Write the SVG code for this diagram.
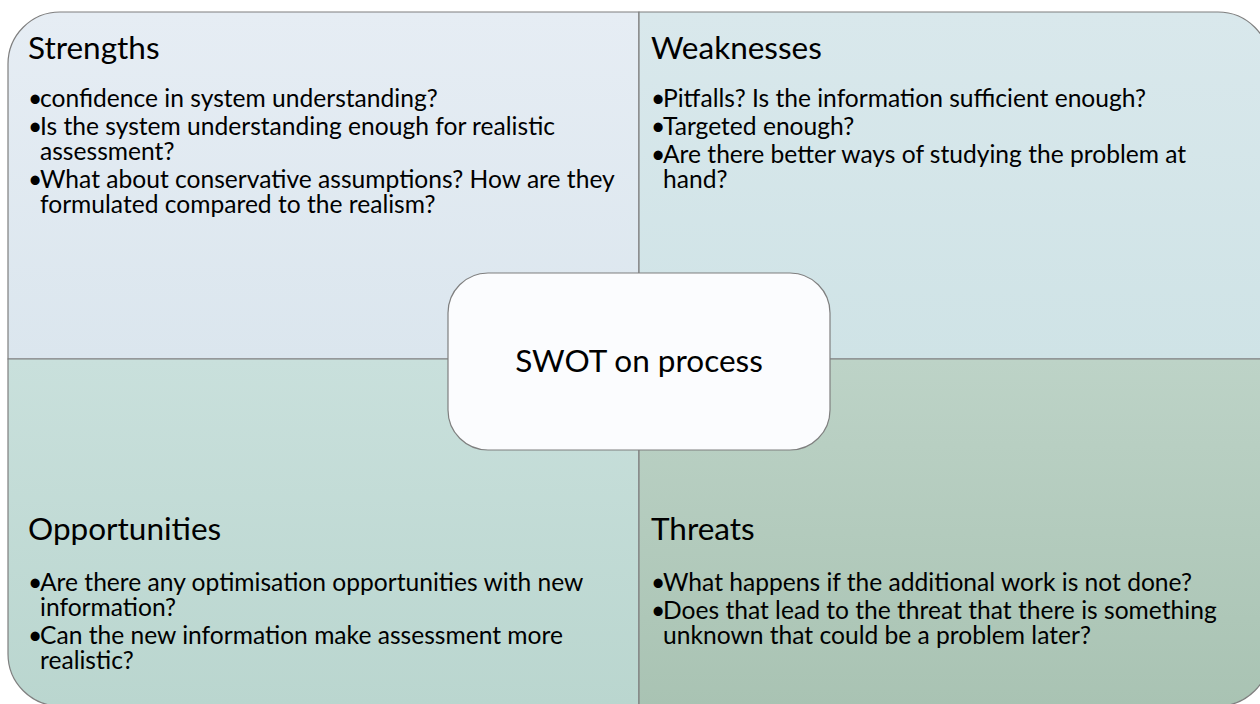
<svg xmlns="http://www.w3.org/2000/svg" width="1260" height="704" viewBox="0 0 1260 704">
<defs>
<linearGradient id="gS" x1="0" y1="0" x2="0" y2="1"><stop offset="0" stop-color="#e6edf4"/><stop offset="1" stop-color="#dbe6ee"/></linearGradient>
<linearGradient id="gW" x1="0" y1="0" x2="0" y2="1"><stop offset="0" stop-color="#d9e8ec"/><stop offset="1" stop-color="#cfe3e6"/></linearGradient>
<linearGradient id="gO" x1="0" y1="0" x2="0" y2="1"><stop offset="0" stop-color="#c9e0dc"/><stop offset="1" stop-color="#bad6cf"/></linearGradient>
<linearGradient id="gT" x1="0" y1="0" x2="0" y2="1"><stop offset="0" stop-color="#bdd3c7"/><stop offset="1" stop-color="#a9c3b3"/></linearGradient>
<style>
.q{stroke:#7f7f7f;stroke-width:1.2}
.h{font-family:Lato,"Open Sans",sans-serif;font-size:31.5px;fill:#000}
.b{font-family:Lato,"Open Sans",sans-serif;font-size:24.6px;fill:#000}
.c{font-family:Lato,"Open Sans",sans-serif;font-size:31.5px;fill:#000}
</style>
</defs>
<rect width="1260" height="704" fill="#ffffff"/>
<g id="strengths">
<path class="q" fill="url(#gS)" d="M8,64 A52,52 0 0 1 60,12 L639,12 L639,359 L8,359 Z"/>
<text class="h" x="28" y="59">Strengths</text>
<text class="b" x="28" y="107">•<tspan x="40">confidence in system understanding?</tspan></text>
<text class="b" x="28" y="135">•<tspan x="40">Is the system understanding enough for realistic</tspan><tspan x="40" dy="24.5">assessment?</tspan></text>
<text class="b" x="28" y="188">•<tspan x="40">What about conservative assumptions? How are they</tspan><tspan x="40" dy="24.5">formulated compared to the realism?</tspan></text>
</g>
<g id="weaknesses">
<path class="q" fill="url(#gW)" d="M639,12 L1218,12 A52,52 0 0 1 1270,64 L1270,359 L639,359 Z"/>
<text class="h" x="651" y="59">Weaknesses</text>
<text class="b" x="651" y="107">•<tspan x="663">Pitfalls? Is the information sufficient enough?</tspan></text>
<text class="b" x="651" y="135">•<tspan x="663">Targeted enough?</tspan></text>
<text class="b" x="651" y="163">•<tspan x="663">Are there better ways of studying the problem at</tspan><tspan x="663" dy="24.5">hand?</tspan></text>
</g>
<g id="opportunities">
<path class="q" fill="url(#gO)" d="M8,359 L639,359 L639,706 L60,706 A52,52 0 0 1 8,654 Z"/>
<text class="h" x="28" y="540">Opportunities</text>
<text class="b" x="28" y="591">•<tspan x="40">Are there any optimisation opportunities with new</tspan><tspan x="40" dy="24.5">information?</tspan></text>
<text class="b" x="28" y="644">•<tspan x="40">Can the new information make assessment more</tspan><tspan x="40" dy="24.5">realistic?</tspan></text>
</g>
<g id="threats">
<path class="q" fill="url(#gT)" d="M639,359 L1270,359 L1270,654 A52,52 0 0 1 1218,706 L639,706 Z"/>
<text class="h" x="651" y="540">Threats</text>
<text class="b" x="651" y="591">•<tspan x="663">What happens if the additional work is not done?</tspan></text>
<text class="b" x="651" y="619">•<tspan x="663">Does that lead to the threat that there is something</tspan><tspan x="663" dy="24.5">unknown that could be a problem later?</tspan></text>
</g>
<g id="connectors"></g>
<g id="center">
<rect x="448" y="273" width="382" height="177" rx="40" ry="40" fill="#fbfcfe" stroke="#7f7f7f" stroke-width="1.2"/>
<text class="c" x="639" y="372" text-anchor="middle">SWOT on process</text>
</g>
</svg>
